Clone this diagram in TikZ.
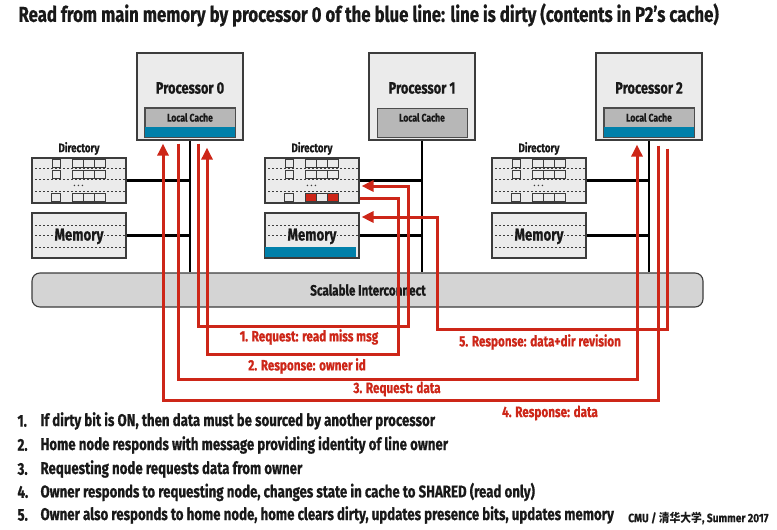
\documentclass[tikz,border=0pt]{standalone}
\usepackage{fontspec}
\setmainfont[FakeStretch=0.78, BoldFeatures={FakeBold=0.6}]{Fira Sans}
\newfontfamily\footfont[FakeStretch=0.85, BoldFeatures={FakeBold=0.4}]{Fira Sans}
\newfontfamily\cjk[FakeStretch=0.9]{Noto Sans CJK SC}
\usetikzlibrary{arrows.meta,calc}
\definecolor{rd}{RGB}{205,38,24}
\definecolor{bl}{RGB}{0,128,170}
\definecolor{boxbg}{RGB}{235,235,235}
\definecolor{cachebg}{RGB}{183,183,183}
\definecolor{icbg}{RGB}{212,212,212}
\definecolor{edge}{RGB}{60,60,60}
\definecolor{txt}{RGB}{25,25,25}
\newcommand\fsz[1]{\bfseries\fontsize{#1}{#1}\selectfont}
\newcommand\dirdetails[3]{%
  \begin{scope}[shift={(#1.north west)}]
    \foreach \yy in {11,22,34} \draw[dotl] (0,\yy) -- (94,\yy);
    \draw[sq] (21,1.5) rectangle (29,9.5);
    \draw[sq] (41,1.5) rectangle (52,9.5);
    \draw[sq] (52,1.5) rectangle (63,9.5);
    \draw[sq] (63,1.5) rectangle (74,9.5);
    \draw[sq] (21,12.5) rectangle (29,20.5);
    \draw[sq] (41,12.5) rectangle (52,20.5);
    \draw[sq] (52,12.5) rectangle (63,20.5);
    \draw[sq] (63,12.5) rectangle (74,20.5);
    \foreach \xx in {43,47,51} \fill[edge] (\xx,28) circle (0.8pt);
    \draw[sq] (20,35.5) rectangle (29,44);
    \draw[sq,fill=#2] (41,35.5) rectangle (52,44);
    \draw[sq] (52,35.5) rectangle (63,44);
    \draw[sq,fill=#3] (63,35.5) rectangle (74,44);
  \end{scope}}
\begin{document}
\begin{tikzpicture}[x=1pt,y=-1pt,
  every node/.style={font=\fsz{12}, text=txt},
  procbox/.style={draw=edge, line width=1.3pt, fill=boxbg, minimum width=106pt, minimum height=87pt, inner sep=0pt},
  cachebox/.style={draw=gray!60!black, line width=0.8pt, fill=cachebg, minimum width=90pt, minimum height=29pt, inner sep=0pt},
  membox/.style={draw=edge, line width=1.1pt, fill=boxbg, minimum width=94pt, minimum height=45pt, inner sep=0pt},
  icbox/.style={draw=edge, line width=1.1pt, fill=icbg, rounded corners=8pt, minimum width=671pt, minimum height=34pt, inner sep=0pt},
  blk/.style={draw=black, line width=2.2pt},
  rl/.style={draw=rd, line width=3pt},
  ra/.style={rl, -{Triangle[length=12pt,width=11pt]}},
  dotl/.style={draw=edge, line width=0.9pt, dash pattern=on 2pt off 2pt},
  sq/.style={draw=edge, line width=0.8pt, fill=boxbg},
  lbl/.style={text=rd, font=\fsz{15}},
  item/.style={anchor=west, font=\fsz{17}},
]
\fill[white] (0,0) rectangle (777,530);
\useasboundingbox (0,0) rectangle (777,530);

% title
\node[anchor=west, font=\fsz{21.5}] (title) at (15,15) {Read from main memory by processor 0 of the blue line: line is dirty (contents in P2’s cache)};

% interconnect
\node[icbox] (ic) at (367.5,290) {};

% processors
\foreach \n/\cx/\lab in {0/190/Processor 0, 1/422/Processor 1, 2/649/Processor 2} {
  \node[procbox] (p\n) at (\cx,96.5) {};
  \node[cachebox] (c\n) at (\cx,122.5) {};
  \node[font=\fsz{16.5}] (pt\n) at (\cx,88) {\lab};
  \node[font=\fsz{11}] (lc\n) at (\cx,117.5) {Local Cache};
}
\fill[bl] ([xshift=0.4pt,yshift=0.4pt]c0.south west) rectangle ([xshift=-0.4pt,yshift=10pt]c0.south east);
\fill[bl] ([xshift=0.4pt,yshift=0.4pt]c2.south west) rectangle ([xshift=-0.4pt,yshift=10pt]c2.south east);
\draw[draw=gray!60!black, line width=0.8pt] (c0.south west) rectangle (c0.north east);
\draw[draw=gray!60!black, line width=0.8pt] (c2.south west) rectangle (c2.north east);

% directories and memories
\foreach \n/\cx in {0/79, 1/312, 2/539} {
  \node[membox] (d\n) at (\cx,180.5) {};
  \node[font=\fsz{12.5}] (dl\n) at (\cx,148.5) {Directory};
  \node[membox] (m\n) at (\cx,235.5) {};
}
\dirdetails{d0}{boxbg}{boxbg}
\dirdetails{d1}{rd}{rd}
\dirdetails{d2}{boxbg}{boxbg}
\foreach \n in {0,2} {
  \begin{scope}[shift={(m\n.north west)}]
    \foreach \yy in {13,23,35} \draw[dotl] (0,\yy) -- (94,\yy);
  \end{scope}
}
\begin{scope}[shift={(m1.north west)}]
  \foreach \yy in {13,23} \draw[dotl] (0,\yy) -- (94,\yy);
  \fill[bl] (0.6,34.5) rectangle (92,44.4);
\end{scope}
\foreach \n in {0,1,2} {
  \node[font=\fsz{17}, fill=boxbg, inner sep=0.5pt] (mt\n) at ([yshift=-1pt]m\n.center) {Memory};
}

% black connections
\foreach \n in {0,1,2} {
  \draw[blk] (p\n.south) -- (p\n.south |- ic.north);
  \draw[blk] (d\n.east) -- (d\n.east -| p\n.south);
  \draw[blk] (m\n.east) -- (m\n.east -| p\n.south);
}
\node[font=\fsz{15}] (ict) at (368,290) {Scalable Interconnect};

% red messages
\draw[ra, shorten <=3pt, shorten >=2pt] ([xshift=8pt]p0.south) |- (408,326) |- ([yshift=-5.5pt]d1.east);
\draw[ra, shorten >=7pt] ([yshift=-17.5pt]d1.east) -| (398,354) -| ([xshift=17pt]p0.south);
\draw[ra, shorten <=3pt, shorten >=4pt] ([xshift=-12pt]p0.south) |- (637,379) -- ([xshift=-12pt]p2.south);
\draw[ra, shorten <=5pt, shorten >=3pt] ([xshift=9pt]p2.south) |- (163,400) -- ([xshift=-27pt]p0.south);
\draw[ra, shorten <=8pt, shorten >=2pt] ([xshift=18pt]p2.south) |- (437,329) |- ([yshift=18.5pt]m1.east);

\node[lbl] (l1) at (309,337) {1. Request: read miss msg};
\node[lbl] (l2) at (307,366) {2. Response: owner id};
\node[lbl] (l3) at (397,389) {3. Request: data};
\node[lbl] (l4) at (550,413) {4. Response: data};
\node[lbl] (l5) at (540,342) {5. Response: data+dir revision};

% list
\foreach \i/\yy/\t in {1/421/If dirty bit is ON{,} then data must be sourced by another processor,
  2/445/Home node responds with message providing identity of line owner,
  3/469/Requesting node requests data from owner,
  4/492/Owner responds to requesting node{,} changes state in cache to SHARED (read only),
  5/515/Owner also responds to home node{,} home clears dirty{,} updates presence bits{,} updates memory} {
  \node[item] (n\i) at (14,\yy) {\i.};
  \node[item] (it\i) at (37,\yy) {\t};
}
\node[anchor=east, font=\footfont\bfseries\fontsize{12}{12}\selectfont] (foot) at (772,518) {CMU / {\cjk 清华大学}, Summer 2017};
\end{tikzpicture}
\end{document}
